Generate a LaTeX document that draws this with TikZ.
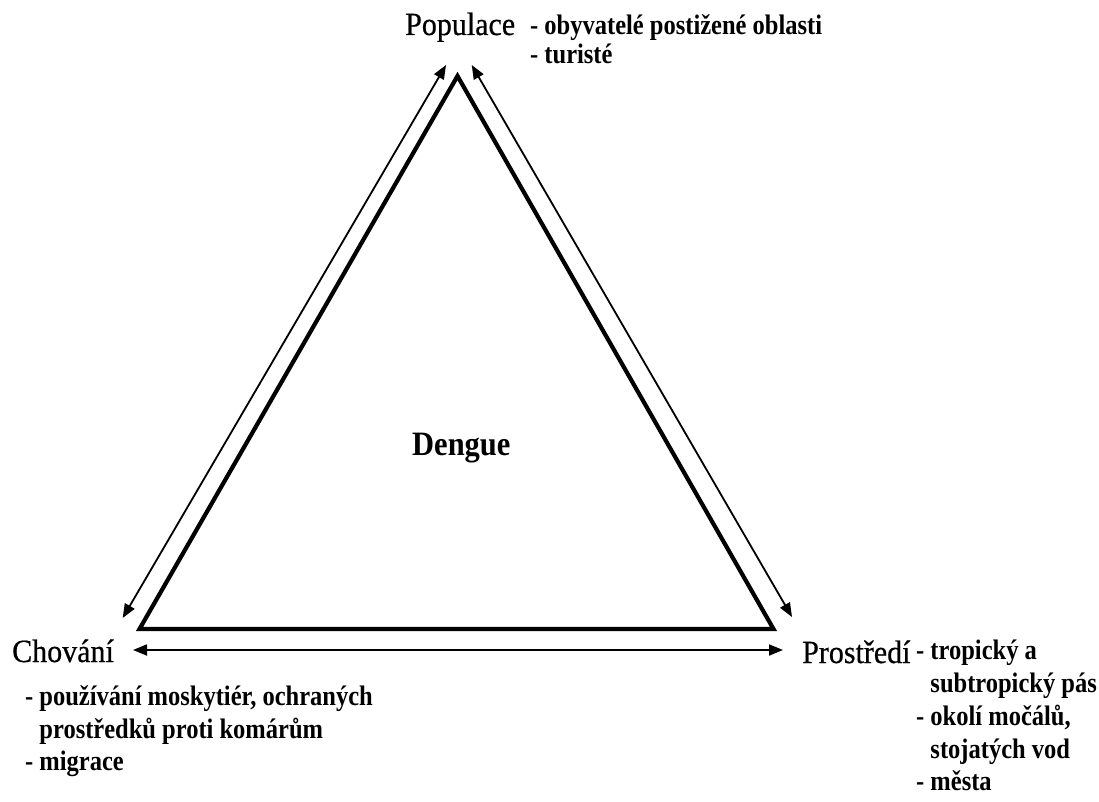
\documentclass[tikz,border=0pt]{standalone}
\usepackage{fontspec}
\setmainfont{Liberation Serif}
\newfontfamily\lblfont[FakeBold=0.6]{Liberation Serif}
\usetikzlibrary{arrows.meta}
\begin{document}
\begin{tikzpicture}[x=1pt,y=-1pt,
  side/.style={line width=4.2pt, line join=miter},
  link/.style={line width=1.8pt, {Triangle[length=14pt,width=11pt]}-{Triangle[length=14pt,width=11pt]}},
  lbl/.style={anchor=base west, inner sep=0pt, yscale=1.08, font=\lblfont\fontsize{30}{34}\selectfont},
  desc/.style={anchor=base west, inner sep=0pt, yscale=1.15, font=\fontsize{24.5}{33}\selectfont\bfseries},
  title/.style={anchor=base west, inner sep=0pt, yscale=1.12, font=\fontsize{30.5}{36}\selectfont\bfseries},
]
\useasboundingbox[fill=white] (0,0) rectangle (1099,802);
% triangle vertices
\coordinate (A) at (457.5,76);
\coordinate (B) at (139.5,629);
\coordinate (C) at (773.5,629);
\draw[side] (A) -- (B) -- (C) -- cycle;
% arrow ends
\coordinate (L1) at (122.7,618);
\coordinate (L2) at (446,65);
\coordinate (R1) at (471.7,65);
\coordinate (R2) at (792,617);
\coordinate (H1) at (133,650);
\coordinate (H2) at (783,650);
\draw[link] (L1) -- (L2);
\draw[link] (R1) -- (R2);
\draw[link] (H1) -- (H2);
% labels
\node[title] (dengue) at (412,455) {Dengue};
\node[lbl] (pop) at (405,35) {Populace};
\node[desc] (pop1) at (530,35) {- obyvatelé postižené oblasti};
\node[desc] (pop2) at (530,64) {- turisté};
\node[lbl] (chov) at (12,662) {Chování};
\node[desc] (chov1) at (25,705) {- používání moskytiér, ochraných};
\node[desc] (chov2) at (25,738) {\hphantom{- }prostředků proti komárům};
\node[desc] (chov3) at (25,770) {- migrace};
\node[lbl] (pros) at (802,663) {Prostředí};
\node[desc] (pros1) at (916,659) {- tropický a};
\node[desc] (pros2) at (916,692) {\hphantom{- }subtropický pás};
\node[desc] (pros3) at (916,725) {- okolí močálů,};
\node[desc] (pros4) at (916,758) {\hphantom{- }stojatých vod};
\node[desc] (pros5) at (916,790) {- města};
\end{tikzpicture}
\end{document}
